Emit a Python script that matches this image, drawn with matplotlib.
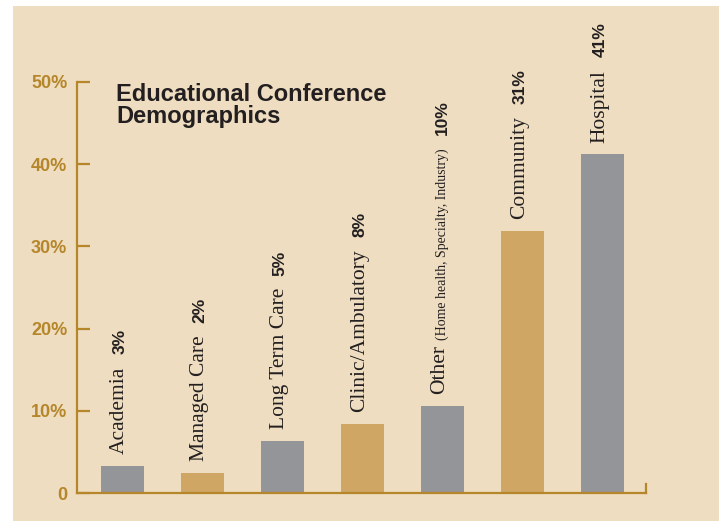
import matplotlib.pyplot as plt
from matplotlib.patches import Rectangle
import numpy as np

# data
categories = ['Academia', 'Managed Care', 'Long Term Care', 'Clinic/Ambulatory',
              'Other', 'Community', 'Hospital']
notes = ['', '', '', '', '(Home health, Specialty, Industry)', '', '']
bar_values = [3.3, 2.4, 6.3, 8.4, 10.6, 31.9, 41.2]
pct_labels = ['3%', '2%', '5%', '8%', '10%', '31%', '41%']
ytick_values = [0, 10, 20, 30, 40, 50]
ytick_labels = ['0', '10%', '20%', '30%', '40%', '50%']

GRAY = '#949599'
TAN = '#D0A665'
GOLD = '#B5862A'
BG = '#EEDDC0'
INK = '#231F20'
bar_colors = [GRAY, TAN, GRAY, TAN, GRAY, TAN, GRAY]

fig = plt.figure(figsize=(7.19, 5.21), dpi=100)
fig.patch.set_facecolor('white')
# beige panel (white margin on left and top)
fig.patches.append(Rectangle((13 / 719, 0), 1, 1 - 6 / 521, transform=fig.transFigure,
                             facecolor=BG, edgecolor='none', zorder=-10))

ax = fig.add_axes([77 / 719, 1 - 493 / 521, (646 - 77) / 719, (493 - 82) / 521])
ax.set_facecolor('none')

x = np.arange(len(categories))
ax.bar(x, bar_values, width=0.54, color=bar_colors, zorder=2)

ax.set_xlim(-0.569, 6.54)
ax.set_ylim(0, 50)

for side in ['top', 'right']:
    ax.spines[side].set_visible(False)
for side in ['left', 'bottom']:
    ax.spines[side].set_color(GOLD)
    ax.spines[side].set_linewidth(1.6)
ax.axvline(6.54, ymin=0, ymax=9 / 411, color=GOLD, lw=1.6, clip_on=False)

ax.set_xticks([])
ax.set_yticks(ytick_values)
ax.set_yticklabels(ytick_labels)
ax.tick_params(axis='y', direction='in', length=9.5, width=1.6, color=GOLD,
               pad=7, labelcolor=GOLD)
for lbl in ax.get_yticklabels():
    lbl.set_fontfamily('Liberation Sans')
    lbl.set_fontweight('bold')
    lbl.set_fontsize(13)

# rotated labels: name, optional note, then bold percentage
for i in range(len(categories)):
    name = ax.annotate(categories[i], xy=(x[i], bar_values[i]), xytext=(-2, 8.5),
                       textcoords='offset points', rotation=90, ha='center',
                       va='bottom', fontsize=15.5, family='Liberation Serif', color=INK)
    last = name
    if notes[i]:
        last = ax.annotate(notes[i], xy=(0.5, 1), xycoords=name, xytext=(1.5, 4),
                           textcoords='offset points', rotation=90, ha='center',
                           va='bottom', fontsize=10, family='Liberation Serif', color=INK)
    ax.annotate(pct_labels[i], xy=(0.5, 1), xycoords=last, xytext=(0, 9),
                textcoords='offset points', rotation=90, ha='center', va='bottom',
                fontsize=12.5, fontweight='bold', family='Liberation Sans', color=INK)

fig.text(116 / 719, 1 - 83 / 521, 'Educational Conference\nDemographics',
         ha='left', va='top', fontsize=17, fontweight='bold',
         family='Liberation Sans', color=INK, linespacing=0.92)

fig.savefig('out.png', dpi=100, facecolor=fig.get_facecolor())
